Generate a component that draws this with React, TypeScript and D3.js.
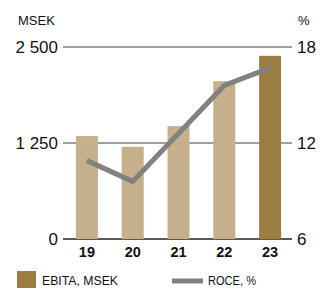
import React, { useRef, useEffect } from 'react';
import * as d3 from 'd3';

// chart data
const years = ['19', '20', '21', '22', '23'];
const ebita = [1340, 1200, 1470, 2055, 2385];
const roce = [10.9, 9.6, 12.6, 15.6, 16.7];
const leftTicks = [0, 1250, 2500];
const rightTicks = [6, 12, 18];

const W = 320;
const H = 289;

const App: React.FC = () => {
  const svgRef = useRef<SVGSVGElement>(null);

  useEffect(() => {
    if (!svgRef.current) return;
    const svg = d3.select(svgRef.current);
    svg.selectAll('*').remove();

    const left = 63;
    const right = 292;
    const top = 47;
    const bottom = 239;

    const x = d3.scaleBand<string>()
      .domain(years)
      .range([64, 293])
      .paddingInner(0.52)
      .paddingOuter(0.26);

    const yL = d3.scaleLinear().domain([0, 2500]).range([bottom, top]);
    const yR = d3.scaleLinear().domain([6, 18]).range([bottom, top]);

    const font = 'Liberation Sans, Arial, sans-serif';

    // grid lines
    svg.append('g')
      .selectAll('line')
      .data(leftTicks)
      .join('line')
      .attr('x1', left)
      .attr('x2', right)
      .attr('y1', d => yL(d))
      .attr('y2', d => yL(d))
      .attr('stroke', d => (d === 0 ? '#222' : '#7f7f7f'))
      .attr('stroke-width', 1.6);

    // bars
    svg.append('g')
      .selectAll('rect')
      .data(ebita)
      .join('rect')
      .attr('x', (_, i) => x(years[i])!)
      .attr('width', x.bandwidth())
      .attr('y', d => yL(d))
      .attr('height', d => bottom - yL(d))
      .attr('fill', (_, i) => (i === years.length - 1 ? '#9b7c41' : '#c6b08a'));

    // ROCE line
    const line = d3.line<number>()
      .x((_, i) => x(years[i])! + x.bandwidth() / 2)
      .y(d => yR(d));

    svg.append('path')
      .datum(roce)
      .attr('fill', 'none')
      .attr('stroke', '#818181')
      .attr('stroke-width', 5)
      .attr('d', line);

    // left ticks
    svg.append('g')
      .selectAll('text')
      .data(leftTicks)
      .join('text')
      .attr('x', 58)
      .attr('y', d => yL(d))
      .attr('dy', '0.36em')
      .attr('text-anchor', 'end')
      .attr('font-family', font)
      .attr('font-size', 17)
      .attr('fill', '#111')
      .text(d => d3.format(',')(d).replace(',', ' '));

    // right ticks
    svg.append('g')
      .selectAll('text')
      .data(rightTicks)
      .join('text')
      .attr('x', 297)
      .attr('y', d => yR(d))
      .attr('dy', '0.36em')
      .attr('font-family', font)
      .attr('font-size', 17)
      .attr('fill', '#111')
      .text(d => String(d));

    // units
    svg.append('text')
      .attr('x', 18)
      .attr('y', 25)
      .attr('font-family', font)
      .attr('font-size', 13)
      .attr('fill', '#111')
      .text('MSEK');

    svg.append('text')
      .attr('x', 298)
      .attr('y', 25)
      .attr('font-family', font)
      .attr('font-size', 13)
      .attr('fill', '#111')
      .text('%');

    // year labels
    svg.append('g')
      .selectAll('text')
      .data(years)
      .join('text')
      .attr('x', d => x(d)! + x.bandwidth() / 2)
      .attr('y', 252)
      .attr('dy', '0.36em')
      .attr('text-anchor', 'middle')
      .attr('font-family', font)
      .attr('font-size', 14.5)
      .attr('font-weight', 'bold')
      .attr('fill', '#111')
      .text(d => d);

    // legend
    svg.append('rect')
      .attr('x', 17)
      .attr('y', 271)
      .attr('width', 19)
      .attr('height', 17)
      .attr('fill', '#9b7c41');

    svg.append('text')
      .attr('x', 42)
      .attr('y', 280)
      .attr('dy', '0.36em')
      .attr('font-family', font)
      .attr('font-size', 13)
      .attr('textLength', 76)
      .attr('lengthAdjust', 'spacingAndGlyphs')
      .attr('fill', '#111')
      .text('EBITA, MSEK');

    svg.append('line')
      .attr('x1', 172)
      .attr('x2', 203)
      .attr('y1', 281)
      .attr('y2', 281)
      .attr('stroke', '#818181')
      .attr('stroke-width', 5);

    svg.append('text')
      .attr('x', 208)
      .attr('y', 280)
      .attr('dy', '0.36em')
      .attr('font-family', font)
      .attr('font-size', 13)
      .attr('textLength', 48)
      .attr('lengthAdjust', 'spacingAndGlyphs')
      .attr('fill', '#111')
      .text('ROCE, %');
  }, []);

  return (
    <svg
      ref={svgRef}
      width={W}
      height={H}
      style={{ position: 'absolute', left: 0, top: 0, background: '#fff' }}
    />
  );
};

export default App;
